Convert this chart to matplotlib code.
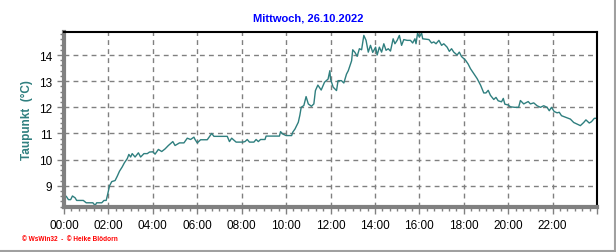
import matplotlib
matplotlib.use("Agg")
import matplotlib.pyplot as plt
from matplotlib.ticker import MultipleLocator, FuncFormatter
from matplotlib.lines import Line2D

# dew point readings, hours since midnight
hours = [0.0, 0.1, 0.2, 0.3, 0.38, 0.5, 0.57, 0.87, 1.0, 1.3, 1.4, 1.47, 1.7, 1.8, 1.9,
         1.97, 2.05, 2.15, 2.3, 2.4, 2.5, 2.62, 2.72, 2.85, 2.92, 3.0, 3.07, 3.2, 3.35,
         3.45, 3.6, 3.75, 3.85, 4.0, 4.1, 4.25, 4.4, 4.55, 4.7, 4.9, 5.0, 5.2, 5.4,
         5.55, 5.7, 5.85, 5.9, 6.0, 6.15, 6.45, 6.65, 6.75, 7.35, 7.45, 7.55, 7.75,
         8.05, 8.15, 8.25, 8.35, 8.55, 8.65, 8.75, 8.85, 9.05, 9.1, 9.7, 9.75, 9.85,
         10.0, 10.25, 10.3, 10.4, 10.55, 10.62, 10.68, 10.8, 10.9, 11.0, 11.14, 11.25,
         11.32, 11.43, 11.58, 11.73, 11.89, 11.97, 12.0, 12.12, 12.27, 12.34, 12.49,
         12.6, 12.72, 12.8, 12.95, 13.0, 13.1, 13.2, 13.3, 13.4, 13.5, 13.6, 13.7,
         13.8, 13.9, 14.03, 14.1, 14.2, 14.3, 14.4, 14.5, 14.6, 14.7, 14.82, 14.9,
         15.0, 15.1, 15.2, 15.3, 15.45, 15.6, 15.7, 15.8, 15.85, 15.92, 16.0, 16.1,
         16.15, 16.43, 16.55, 16.65, 16.75, 16.88, 17.0, 17.1, 17.25, 17.35, 17.45,
         17.55, 17.7, 17.8, 17.9, 18.08, 18.2, 18.3, 18.45, 18.6, 18.76, 18.9, 19.0,
         19.1, 19.2, 19.35, 19.45, 19.55, 19.7, 19.78, 19.85, 20.0, 20.1, 20.3, 20.47,
         20.55, 20.7, 20.9, 21.0, 21.15, 21.3, 21.45, 21.6, 21.75, 21.85, 21.95, 22.07,
         22.2, 22.3, 22.4, 22.58, 22.8, 22.95, 23.1, 23.25, 23.4, 23.5, 23.65, 23.75,
         23.88, 23.95]
dewpoint = [8.6, 8.6, 8.47, 8.47, 8.61, 8.54, 8.44, 8.44, 8.35, 8.35, 8.25, 8.35, 8.35, 8.44, 8.44,
            8.69, 9.0, 9.16, 9.2, 9.37, 9.56, 9.72, 9.88, 10.04, 10.2, 10.1, 10.23, 10.1, 10.26,
            10.1, 10.23, 10.23, 10.29, 10.3, 10.21, 10.39, 10.31, 10.41, 10.54, 10.69, 10.54, 10.64, 10.64,
            10.82, 10.77, 10.86, 10.77, 10.64, 10.76, 10.76, 11.0, 10.89, 10.89, 10.69, 10.82, 10.67,
            10.67, 10.69, 10.77, 10.67, 10.67, 10.77, 10.69, 10.77, 10.77, 10.9, 10.9, 11.07, 10.98,
            10.92, 10.92, 11.05, 11.17, 11.43, 11.7, 12.0, 12.07, 12.41, 12.13, 12.04, 12.13,
            12.64, 12.85, 12.66, 12.96, 13.08, 13.4, 13.08, 12.77, 12.64, 13.02, 13.02,
            12.93, 13.27, 13.4, 13.78, 14.2, 14.1, 13.95, 14.24, 14.2, 14.75, 14.56, 14.11,
            14.37, 14.1, 14.3, 14.0, 14.3, 14.11, 14.43, 14.18, 14.24, 14.15, 14.62, 14.43,
            14.56, 14.75, 14.37, 14.59, 14.56, 14.56, 14.46, 14.62, 14.43, 14.84, 14.68, 14.84,
            14.62, 14.59, 14.46, 14.5, 14.43, 14.56, 14.37, 14.43, 14.3, 14.14, 14.24,
            14.11, 14.0, 14.11, 13.94, 13.8, 13.65, 13.48, 13.29, 13.1, 12.84, 12.55, 12.55,
            12.65, 12.46, 12.3, 12.38, 12.25, 12.21, 12.34, 12.12, 12.09, 12.02, 12.0, 12.0,
            12.26, 12.13, 12.22, 12.13, 12.17, 12.06, 12.0, 12.06, 12.0, 11.87, 12.0, 11.84,
            11.79, 11.81, 11.68, 11.62, 11.55, 11.42, 11.36, 11.3, 11.42, 11.52, 11.4, 11.45,
            11.58, 11.58]

title = "Mittwoch, 26.10.2022"
ylabel = "Taupunkt  (°C)"
footer = "\u00a9 WsWin32  -  \u00a9 Heike Blödorn"

teal = "#2f7f7f"

plt.rcParams["font.family"] = ["Liberation Sans", "DejaVu Sans"]
fig = plt.figure(figsize=(6.16, 2.53), dpi=100)
ax = fig.add_axes([0.1039, 0.179, 0.8653, 0.6906])

ax.plot(hours, dewpoint, color=teal, lw=1.0)

ax.set_xlim(0, 24)
ax.set_ylim(8.2, 14.88)
ax.xaxis.set_major_locator(MultipleLocator(2))
ax.xaxis.set_minor_locator(MultipleLocator(1 / 3))
ax.yaxis.set_major_locator(MultipleLocator(1))
ax.yaxis.set_minor_locator(MultipleLocator(0.2))
ax.xaxis.set_major_formatter(FuncFormatter(lambda v, p: "%02d:00" % int(v) if v < 24 else ""))
ax.yaxis.set_major_formatter(FuncFormatter(lambda v, p: "%d" % v if v >= 9 else ""))

ax.grid(True, which="major", color="#808080", ls=(0, (3.5, 3)), lw=1.0)
ax.tick_params(which="both", direction="out", colors="#808080", labelcolor="black", labelsize=8.5)
ax.tick_params(which="major", length=5, width=1)
ax.tick_params(which="minor", length=3, width=1)

for side in ["top", "right"]:
    ax.spines[side].set_color("black")
    ax.spines[side].set_linewidth(1.5)
for side in ["left", "bottom"]:
    ax.spines[side].set_color("#808080")
    ax.spines[side].set_linewidth(3)

ax.set_ylabel(ylabel, color=teal, fontsize=8.5, fontweight="bold", labelpad=4)
fig.text(0.5, 0.925, title, color="blue", fontsize=8, fontweight="bold",
         ha="center", va="center")
fig.text(0.036, 0.052, footer, color="red", fontsize=4.7, fontweight="bold",
         ha="left", va="center")

# grey frame on the right and bottom edges
fig.add_artist(Line2D([0, 1], [0.003, 0.003], transform=fig.transFigure, color="#a0a0a0", lw=1.5))
fig.add_artist(Line2D([0.998, 0.998], [0, 1], transform=fig.transFigure, color="#a0a0a0", lw=1.5))

fig.savefig("out.png", dpi=100)
